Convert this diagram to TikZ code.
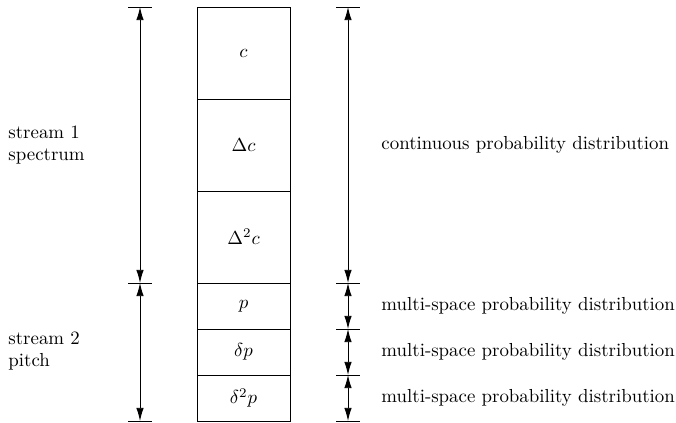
\documentclass[tikz,border=0pt]{standalone}
\usepackage{amsmath,amssymb}
\usetikzlibrary{arrows.meta,positioning,calc}

\begin{document}
\begin{tikzpicture}[x=0.53pt,y=-0.53pt,line width=0.5pt,
    cell/.style={draw,minimum width=49.29pt,inner sep=0pt,outer sep=0pt},
    bigcell/.style={cell,minimum height=48.76pt},
    smallcell/.style={cell,minimum height=24.38pt},
    dim/.style={{Latex[length=7pt,width=4pt]}-{Latex[length=7pt,width=4pt]}},
    lbl/.style={anchor=west,align=left,inner sep=0pt}]
    \useasboundingbox (0,0) rectangle (676,423);

    % feature vector
    \node[bigcell] (c) at (243.5,53) {$c$};
    \node[bigcell,below=0pt of c] (dc) {$\Delta c$};
    \node[bigcell,below=0pt of dc] (ddc) {$\Delta^2 c$};
    \node[smallcell,below=0pt of ddc] (p) {$p$};
    \node[smallcell,below=0pt of p] (dp) {$\delta p$};
    \node[smallcell,below=0pt of dp] (ddp) {$\delta^2 p$};

    % stream limits
    \coordinate (l1) at (140,7);
    \coordinate (l2) at (140,283);
    \coordinate (l3) at (140,421);
    \coordinate (r1) at (348,7);
    \coordinate (r2) at (348,283);
    \coordinate (r3) at (348,329);
    \coordinate (r4) at (348,375);
    \coordinate (r5) at (348,421);
    \foreach \t in {l1,l2,l3,r1,r2,r3,r4,r5}
        \draw ($(\t)+(-12,0)$) -- ($(\t)+(12,0)$);

    % streams
    \draw[dim] (l1) -- (l2);
    \draw[dim] (l2) -- (l3);
    \node[lbl] (s1) at (8,145) {stream 1\\spectrum};
    \node[lbl] (s2) at (8,351) {stream 2\\pitch};

    % distributions
    \draw[dim] (r1) -- (r2);
    \draw[dim] (r2) -- (r3);
    \draw[dim] (r3) -- (r4);
    \draw[dim] (r4) -- (r5);
    \node[lbl] (cpd) at (381,145) {continuous probability distribution};
    \node[lbl] (msd1) at (381,306) {multi-space probability distribution};
    \node[lbl] (msd2) at (381,352) {multi-space probability distribution};
    \node[lbl] (msd3) at (381,398) {multi-space probability distribution};
\end{tikzpicture}
\end{document}
